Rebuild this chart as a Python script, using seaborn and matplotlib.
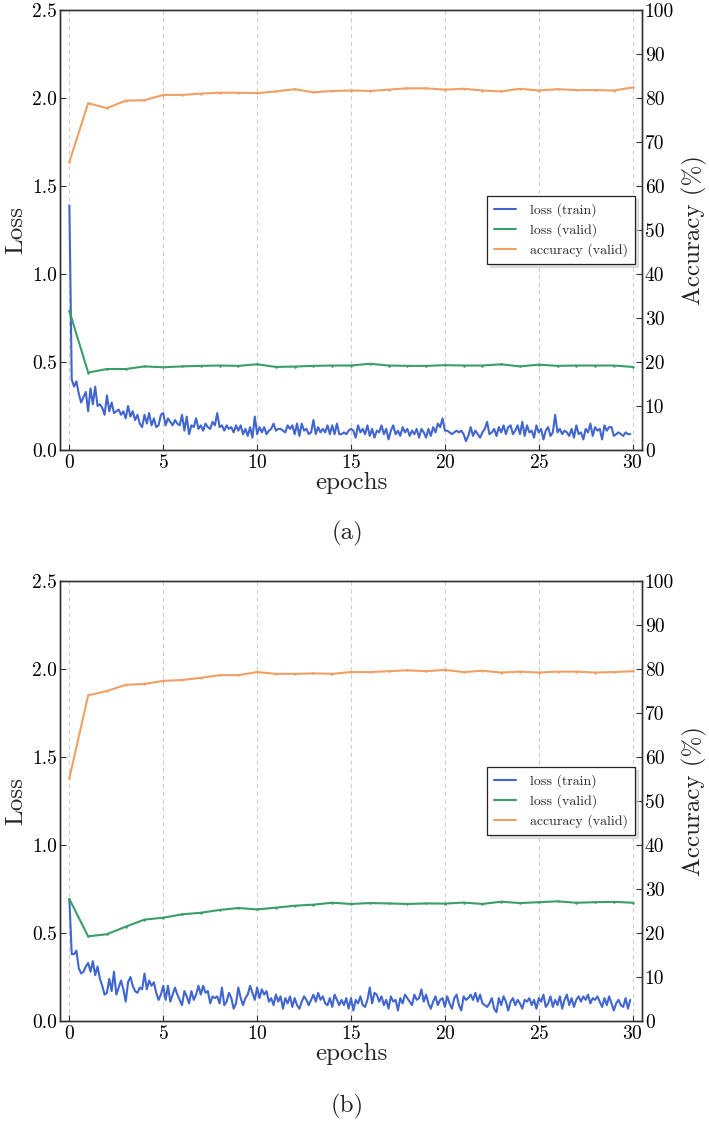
import numpy as np
import pandas as pd
import matplotlib
matplotlib.use("Agg")
import matplotlib.pyplot as plt
from matplotlib.lines import Line2D
import seaborn as sns

# ---------------- data ----------------
epochs = list(range(31))
steps_per_epoch = 8

# panel (a)
train_loss_a = [
    1.39, 0.40, 0.36, 0.39, 0.32, 0.27, 0.30, 0.33,
    0.22, 0.35, 0.26, 0.36, 0.25, 0.26, 0.24, 0.20,
    0.31, 0.22, 0.27, 0.21, 0.22, 0.23, 0.20, 0.22,
    0.18, 0.25, 0.19, 0.22, 0.17, 0.20, 0.15, 0.13,
    0.20, 0.15, 0.21, 0.14, 0.18, 0.13, 0.14, 0.20,
    0.21, 0.14, 0.18, 0.16, 0.14, 0.17, 0.15, 0.14,
    0.20, 0.11, 0.19, 0.09, 0.14, 0.13, 0.18, 0.12,
    0.14, 0.11, 0.15, 0.13, 0.12, 0.16, 0.14, 0.21,
    0.13, 0.14, 0.11, 0.14, 0.12, 0.13, 0.10, 0.14,
    0.11, 0.14, 0.09, 0.12, 0.08, 0.13, 0.07, 0.19,
    0.09, 0.13, 0.10, 0.13, 0.09, 0.11, 0.12, 0.15,
    0.11, 0.12, 0.12, 0.11, 0.10, 0.14, 0.12, 0.14,
    0.09, 0.15, 0.08, 0.15, 0.11, 0.12, 0.09, 0.10,
    0.17, 0.09, 0.13, 0.10, 0.12, 0.10, 0.14, 0.09,
    0.14, 0.09, 0.15, 0.09, 0.09, 0.10, 0.09, 0.11,
    0.12, 0.11, 0.07, 0.14, 0.10, 0.12, 0.09, 0.14,
    0.08, 0.12, 0.07, 0.11, 0.10, 0.14, 0.09, 0.12,
    0.06, 0.11, 0.14, 0.09, 0.11, 0.08, 0.13, 0.10,
    0.12, 0.08, 0.11, 0.09, 0.12, 0.07, 0.12, 0.10,
    0.07, 0.12, 0.08, 0.13, 0.10, 0.15, 0.13, 0.18,
    0.11, 0.11, 0.10, 0.09, 0.10, 0.11, 0.10, 0.11,
    0.09, 0.05, 0.08, 0.13, 0.08, 0.11, 0.09, 0.07,
    0.10, 0.12, 0.16, 0.09, 0.10, 0.12, 0.08, 0.13,
    0.10, 0.14, 0.09, 0.13, 0.14, 0.09, 0.11, 0.14,
    0.09, 0.16, 0.08, 0.14, 0.10, 0.11, 0.07, 0.14,
    0.10, 0.12, 0.06, 0.11, 0.13, 0.08, 0.10, 0.20,
    0.10, 0.12, 0.09, 0.11, 0.10, 0.08, 0.12, 0.07,
    0.14, 0.09, 0.10, 0.06, 0.12, 0.10, 0.15, 0.08,
    0.13, 0.11, 0.12, 0.06, 0.14, 0.11, 0.13, 0.13,
    0.08, 0.09, 0.10, 0.09, 0.08, 0.10, 0.09, 0.09,
]
valid_loss_a = [0.79, 0.44, 0.46, 0.46, 0.475, 0.47, 0.475, 0.478, 0.48, 0.478,
                0.487, 0.472, 0.474, 0.478, 0.48, 0.48, 0.49, 0.48, 0.478, 0.478,
                0.482, 0.48, 0.48, 0.487, 0.475, 0.485, 0.478, 0.48, 0.48, 0.48, 0.472]
valid_acc_a = [65.5, 78.8, 77.7, 79.4, 79.5, 80.7, 80.7, 81.0, 81.2, 81.2,
               81.1, 81.5, 82.0, 81.3, 81.6, 81.7, 81.6, 81.9, 82.2, 82.2,
               81.9, 82.1, 81.7, 81.5, 82.1, 81.7, 82.0, 81.8, 81.8, 81.7, 82.4]

# panel (b)
train_loss_b = [
    0.69, 0.38, 0.38, 0.40, 0.30, 0.27, 0.28, 0.31,
    0.33, 0.28, 0.34, 0.26, 0.31, 0.24, 0.20, 0.15,
    0.16, 0.24, 0.17, 0.28, 0.15, 0.19, 0.23, 0.18,
    0.11, 0.22, 0.25, 0.20, 0.17, 0.16, 0.19, 0.18,
    0.27, 0.18, 0.23, 0.20, 0.22, 0.16, 0.12, 0.15,
    0.20, 0.12, 0.20, 0.11, 0.15, 0.19, 0.15, 0.12,
    0.09, 0.17, 0.14, 0.10, 0.17, 0.12, 0.15, 0.20,
    0.15, 0.20, 0.16, 0.17, 0.10, 0.14, 0.13, 0.14,
    0.10, 0.19, 0.09, 0.11, 0.16, 0.13, 0.07, 0.10,
    0.19, 0.13, 0.09, 0.13, 0.15, 0.20, 0.16, 0.12,
    0.19, 0.13, 0.18, 0.15, 0.17, 0.11, 0.13, 0.09,
    0.15, 0.11, 0.14, 0.07, 0.13, 0.10, 0.14, 0.08,
    0.13, 0.09, 0.07, 0.11, 0.14, 0.12, 0.09, 0.12,
    0.15, 0.11, 0.16, 0.12, 0.14, 0.10, 0.09, 0.13,
    0.08, 0.15, 0.12, 0.09, 0.12, 0.09, 0.13, 0.07,
    0.13, 0.06, 0.12, 0.10, 0.14, 0.09, 0.08, 0.12,
    0.19, 0.10, 0.16, 0.15, 0.11, 0.14, 0.09, 0.12,
    0.07, 0.14, 0.11, 0.12, 0.06, 0.13, 0.10, 0.15,
    0.13, 0.11, 0.09, 0.15, 0.12, 0.13, 0.18, 0.11,
    0.15, 0.10, 0.07, 0.11, 0.14, 0.09, 0.12, 0.13,
    0.08, 0.14, 0.10, 0.07, 0.13, 0.15, 0.09, 0.06,
    0.14, 0.12, 0.13, 0.15, 0.12, 0.16, 0.11, 0.15,
    0.10, 0.09, 0.08, 0.10, 0.13, 0.07, 0.05, 0.13,
    0.09, 0.14, 0.11, 0.06, 0.11, 0.13, 0.09, 0.12,
    0.10, 0.07, 0.12, 0.11, 0.13, 0.09, 0.12, 0.07,
    0.13, 0.11, 0.15, 0.08, 0.10, 0.14, 0.08, 0.12,
    0.09, 0.14, 0.07, 0.12, 0.15, 0.09, 0.13, 0.08,
    0.12, 0.14, 0.11, 0.14, 0.12, 0.15, 0.10, 0.13,
    0.12, 0.14, 0.11, 0.08, 0.13, 0.09, 0.14, 0.10,
    0.06, 0.10, 0.12, 0.09, 0.08, 0.13, 0.07, 0.12,
]
valid_loss_b = [0.693, 0.481, 0.493, 0.536, 0.576, 0.587, 0.606, 0.615, 0.631, 0.642,
                0.634, 0.644, 0.655, 0.661, 0.672, 0.665, 0.670, 0.668, 0.665, 0.668,
                0.667, 0.673, 0.665, 0.678, 0.670, 0.675, 0.680, 0.672, 0.675, 0.677, 0.672]
valid_acc_b = [55.2, 74.0, 75.0, 76.4, 76.6, 77.3, 77.5, 78.0, 78.6, 78.6,
               79.3, 78.9, 78.9, 79.0, 78.9, 79.3, 79.3, 79.5, 79.7, 79.5,
               79.8, 79.3, 79.6, 79.2, 79.4, 79.2, 79.4, 79.4, 79.2, 79.3, 79.5]

labels = ["loss (train)", "loss (valid)", "accuracy (valid)"]
captions = ["(a)", "(b)"]
loss_ticks = [0.0, 0.5, 1.0, 1.5, 2.0, 2.5]
acc_ticks = list(range(0, 101, 10))
epoch_ticks = [0, 5, 10, 15, 20, 25, 30]

BLUE = "#4166cf"
GREEN = "#3a9e66"
ORANGE = "#f0a064"

# ---------------- style ----------------
sns.set_style("white")
plt.rcParams["font.family"] = ["cmr10", "DejaVu Serif"]
plt.rcParams["mathtext.fontset"] = "cm"
plt.rcParams["axes.formatter.use_mathtext"] = True
plt.rcParams["axes.unicode_minus"] = False

fig = plt.figure(figsize=(7.09, 11.21), dpi=100)

W, H = 709.0, 1121.0
panels = [
    dict(top=10, bottom=450, train=train_loss_a, vloss=valid_loss_a, vacc=valid_acc_a,
         cap=captions[0], cap_y=533),
    dict(top=581, bottom=1021, train=train_loss_b, vloss=valid_loss_b, vacc=valid_acc_b,
         cap=captions[1], cap_y=1106),
]

for p in panels:
    left, right = 60, 642
    ax = fig.add_axes([left / W, 1 - p["bottom"] / H, (right - left) / W,
                       (p["bottom"] - p["top"]) / H])
    ax2 = ax.twinx()

    tr = pd.DataFrame({"epoch": np.arange(len(p["train"])) / steps_per_epoch,
                       "loss": p["train"]})
    va = pd.DataFrame({"epoch": epochs, "loss": p["vloss"], "acc": p["vacc"]})

    sns.lineplot(data=tr, x="epoch", y="loss", ax=ax, color=BLUE, lw=1.5,
                 legend=False)
    sns.lineplot(data=va, x="epoch", y="loss", ax=ax, color=GREEN, lw=1.5,
                 marker="o", markersize=1.8, markeredgewidth=0, legend=False)
    sns.lineplot(data=va, x="epoch", y="acc", ax=ax2, color=ORANGE, lw=1.5,
                 marker="o", markersize=1.8, markeredgewidth=0, legend=False)

    ax.set_xlim(-0.5, 30.5)
    ax.set_ylim(0, 2.5)
    ax2.set_ylim(0, 100)
    ax.set_xticks(epoch_ticks)
    ax.set_yticks(loss_ticks)
    ax.set_yticklabels([f"{t:.1f}" for t in loss_ticks])
    ax2.set_yticks(acc_ticks)
    ax2.set_yticklabels([str(t) for t in acc_ticks])

    ax.xaxis.grid(True, ls=(0, (4, 3)), color="#d0d0d0", lw=0.8)
    ax.yaxis.grid(False)
    ax2.grid(False)

    for a in (ax, ax2):
        for s in a.spines.values():
            s.set_color("#333333")
            s.set_linewidth(1.0)
    ax.tick_params(axis="both", direction="in", length=4, width=0.8, color="#333333",
                   labelsize=14, pad=2, labelcolor="black")
    ax.tick_params(axis="x", bottom=True, pad=3)
    ax.tick_params(axis="y", left=True)
    ax2.tick_params(axis="y", direction="in", length=4, width=0.8, color="#333333",
                    labelsize=14, pad=2, right=True, labelcolor="black")

    ax.set_xlabel("epochs", fontsize=18, labelpad=0)
    ax.set_ylabel("Loss", fontsize=18, labelpad=4)
    ax2.set_ylabel("Accuracy (%)", fontsize=18, labelpad=6)

    hl = [Line2D([], [], color=c, lw=1.5) for c in (BLUE, GREEN, ORANGE)]
    leg = ax2.legend(hl, labels, loc="center right", fontsize=10, frameon=True,
                     fancybox=False, shadow={"color": "0.8", "alpha": 0.6, "ox": 2, "oy": -2},
                     edgecolor="#222222", framealpha=1.0, handlelength=1.6,
                     handletextpad=1.0, labelspacing=0.45, borderpad=0.5,
                     borderaxespad=0.5)
    leg.get_frame().set_linewidth(0.9)

    fig.text(347 / W, 1 - p["cap_y"] / H, p["cap"], ha="center", va="center",
             fontsize=18)

fig.savefig("out.png", dpi=100)
